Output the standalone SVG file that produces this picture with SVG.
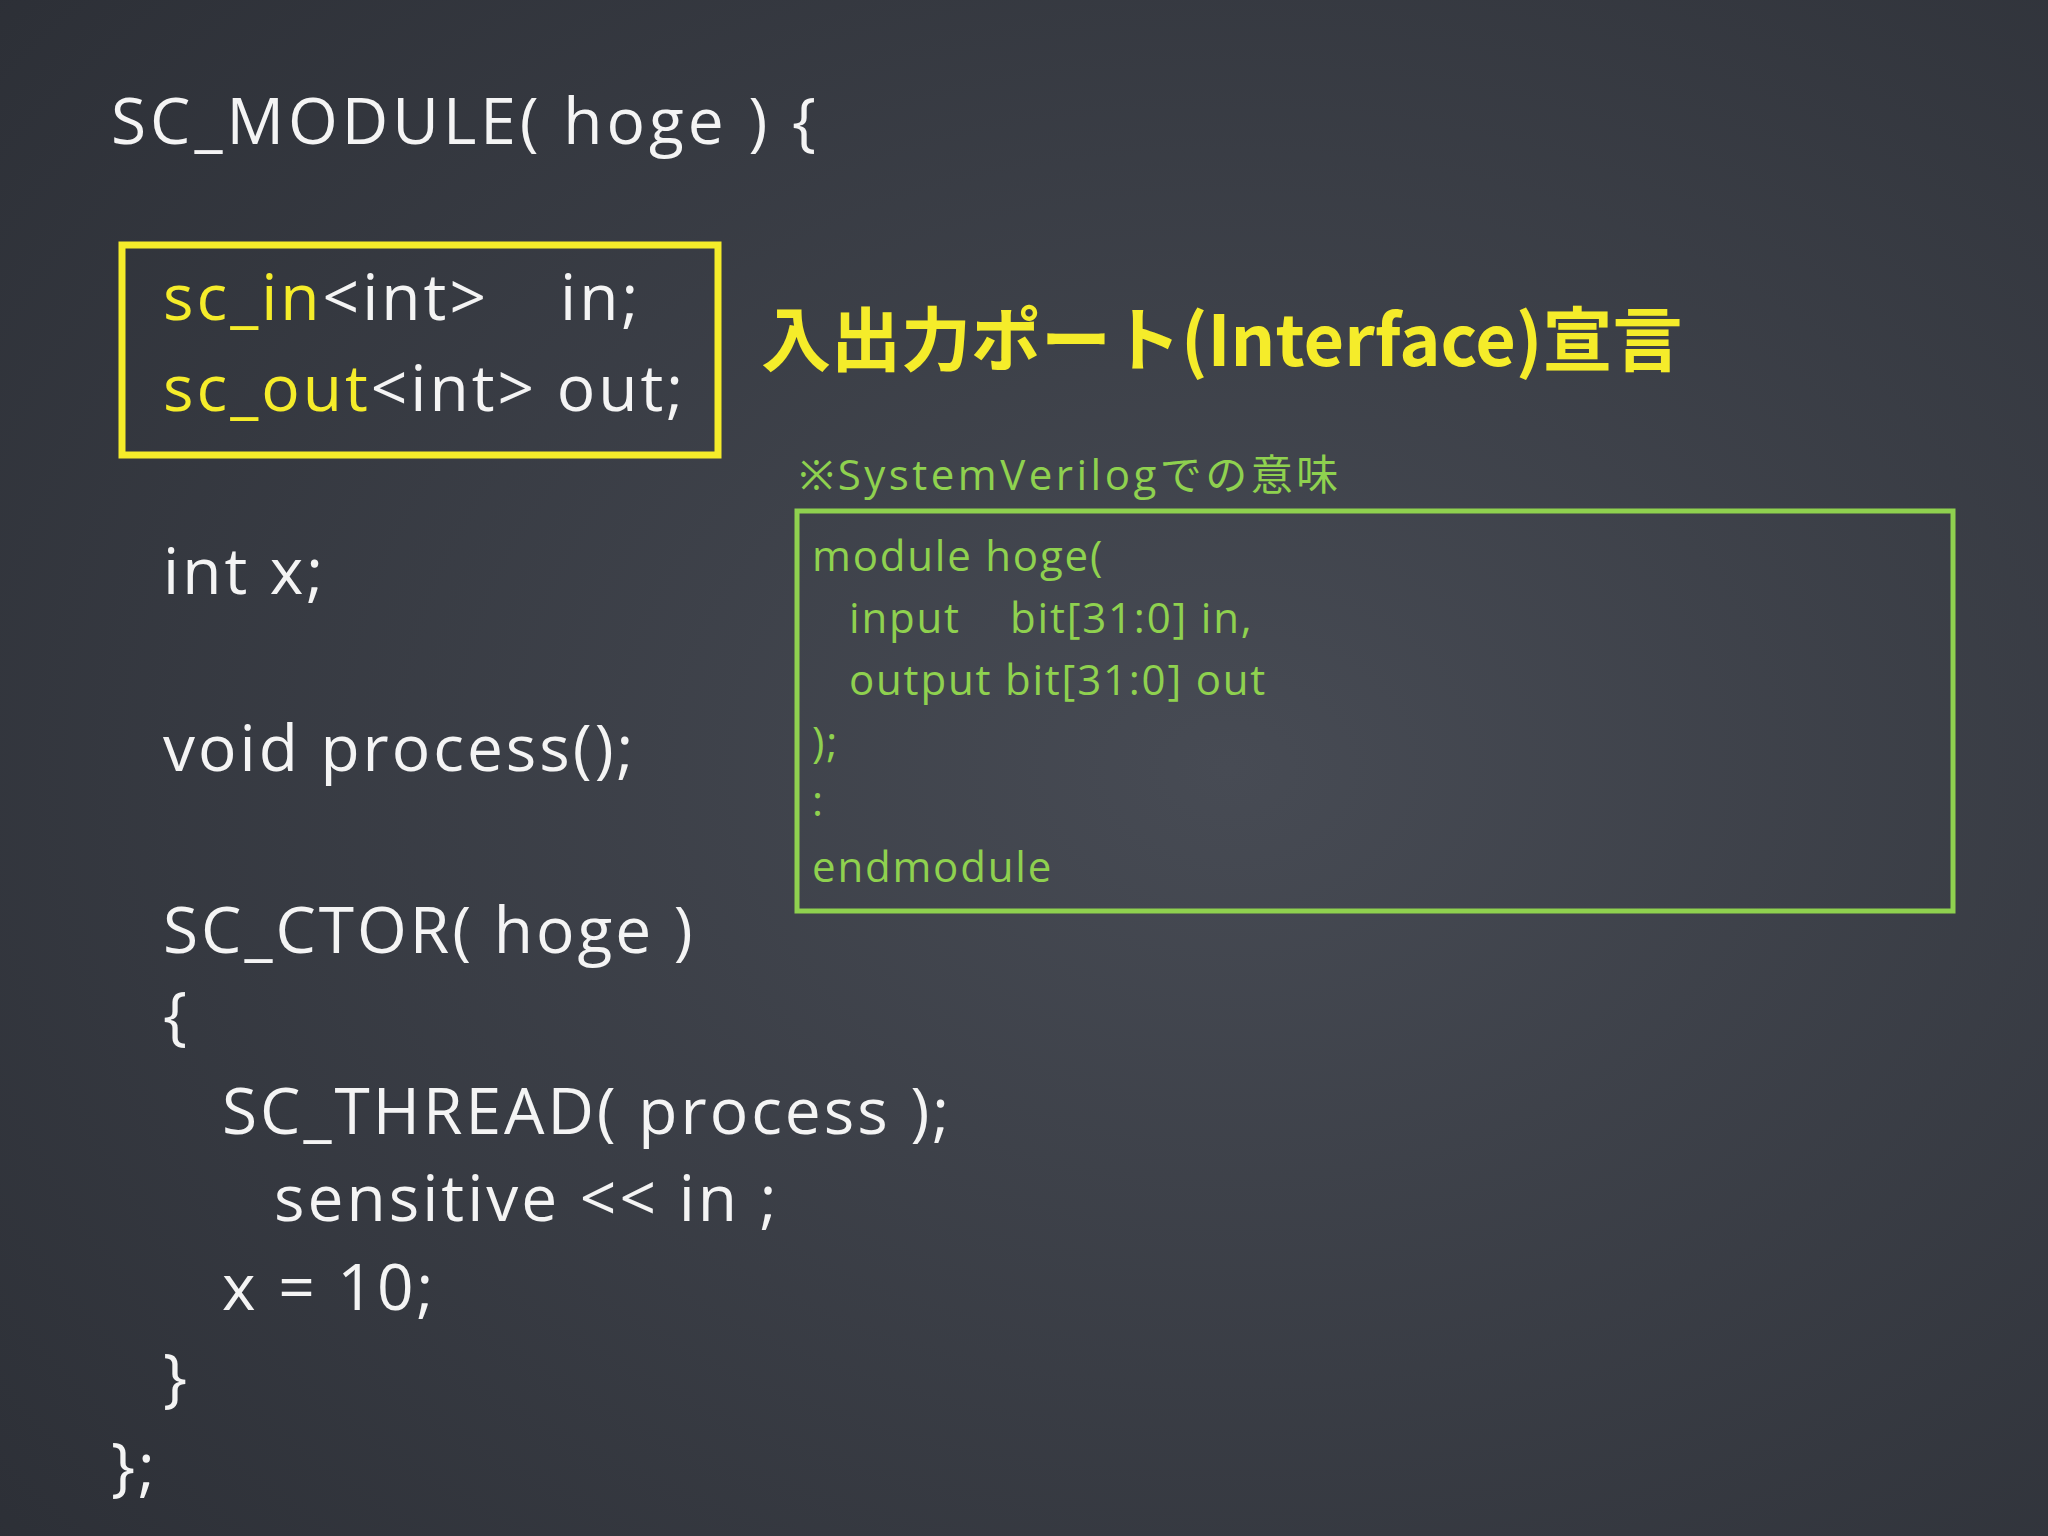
<svg xmlns="http://www.w3.org/2000/svg" width="2048" height="1536" viewBox="0 0 2048 1536">
<style>
.w{font-family:"Open Sans","Noto Sans",sans-serif;fill:#f4f4f4;font-size:64px;letter-spacing:3px}
.y{fill:#f5ec2a}
.g{font-family:"Open Sans","Noto Sans","Noto Sans CJK JP",sans-serif;fill:#8fd14f;font-size:42px;letter-spacing:1.8px}
</style>
<defs>
<radialGradient id="bg" cx="0.6" cy="0.5" r="0.8">
<stop offset="0" stop-color="#474b54"/><stop offset="1" stop-color="#2c2f36"/>
</radialGradient>
</defs>
<rect width="2048" height="1536" fill="url(#bg)"/>
<g id="code">
<text class="w" x="111" y="144" font-size="70" style="letter-spacing:4px">SC_MODULE( hoge ) {</text>
<text class="w" x="163" y="594">int x;</text>
<text class="w" x="163" y="771">void process();</text>
<text class="w" x="163" y="953">SC_CTOR( hoge )</text>
<text class="w" x="163" y="1038">{</text>
<text class="w" x="222" y="1134">SC_THREAD( process );</text>
<text class="w" x="274" y="1221">sensitive &lt;&lt; in ;</text>
<text class="w" x="222" y="1310">x = 10;</text>
<text class="w" x="163" y="1400">}</text>
<text class="w" x="111" y="1489">};</text>
</g>
<g id="ports">
<rect x="122" y="245" width="596" height="210" fill="none" stroke="#f5ec2a" stroke-width="7"/>
<text class="w" x="163" y="320"><tspan class="y">sc_in</tspan>&lt;int&gt;<tspan x="560">in;</tspan></text>
<text class="w" x="163" y="411"><tspan class="y">sc_out</tspan>&lt;int&gt; out;</text>
</g>
<g id="title">
<text x="761" y="366" font-family="'Noto Sans CJK JP',sans-serif" font-weight="bold" font-size="70" fill="#f5ec2a">入出力ポート(Interface)宣言</text>
</g>
<g id="sv">
<text class="g" x="799" y="490" font-size="44" style="letter-spacing:3.5px">※SystemVerilogでの意味</text>
<rect x="797" y="511" width="1156" height="400" fill="none" stroke="#8fd14f" stroke-width="5"/>
<text class="g" x="812" y="571">module hoge(</text>
<text class="g" x="849" y="633">input<tspan x="1010">bit[31:0] in,</tspan></text>
<text class="g" x="849" y="695">output bit[31:0] out</text>
<text class="g" x="812" y="757">);</text>
<text class="g" x="812" y="816">:</text>
<text class="g" x="812" y="882">endmodule</text>
</g>
</svg>
